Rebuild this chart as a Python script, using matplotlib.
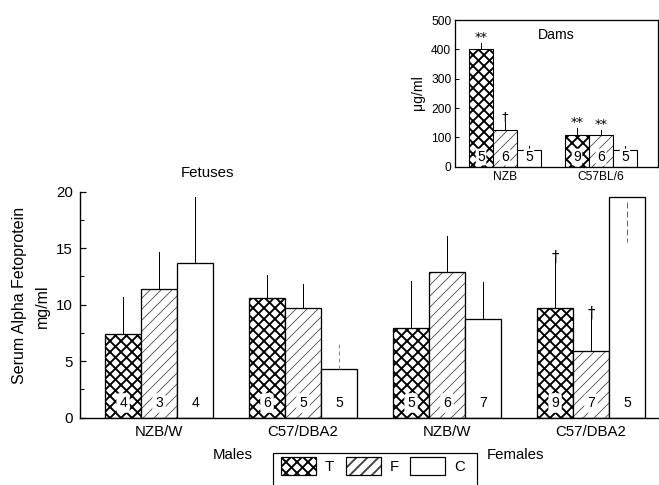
import matplotlib
matplotlib.use('Agg')
import matplotlib.pyplot as plt
import numpy as np
from matplotlib.patches import Rectangle, Patch

DPI = 66
PT = 72.0 / DPI          # points per pixel
W, H = 659, 485

plt.rcParams['font.family'] = ['Liberation Sans', 'DejaVu Sans']
plt.rcParams['hatch.linewidth'] = 1.9 * PT

# ---------------- data: fetuses (mg/ml) ----------------
fet_groups = ['NZB/W', 'C57/DBA2', 'NZB/W', 'C57/DBA2']
fet_T = [7.45, 10.55, 7.95, 9.75]
fet_F = [11.35, 9.75, 12.85, 5.9]
fet_C = [13.65, 4.3, 8.7, 19.55]
fet_T_err = [3.25, 2.05, 4.15, 4.45]
fet_F_err = [3.35, 2.05, 3.25, 3.35]
fet_C_err = [5.85, 2.3, 3.3, 4.0]
fet_T_n = [4, 6, 5, 9]
fet_F_n = [3, 5, 6, 7]
fet_C_n = [4, 5, 7, 5]
fet_T_mark = ['', '', '', '\u2020']
fet_F_mark = ['', '', '', '\u2020']

# ---------------- data: dams (ug/ml) ----------------
dam_groups = ['NZB', 'C57BL/6']
dam_T = [400, 108]
dam_F = [125, 108]
dam_C = [57, 57]
dam_T_err = [23, 23]
dam_F_err = [28, 17]
dam_C_err = [15, 15]
dam_T_n = [5, 9]
dam_F_n = [6, 6]
dam_C_n = [5, 5]
dam_T_mark = ['**', '**']
dam_F_mark = ['\u2020', '**']

legend_labels = ['T', 'F', 'C']

fig = plt.figure(figsize=(W / DPI, H / DPI), dpi=DPI)
fig.patch.set_facecolor('white')

def fs(px):
    return px * PT

styles = {
    'T': dict(hatch='xx', hlw=1.9, hcolor='black'),
    'F': dict(hatch='//', hlw=0.8, hcolor='#444444'),
    'C': dict(hatch=None, hlw=1.0, hcolor='black'),
}

def style_patch(p, key):
    st = styles[key]
    if st['hatch']:
        p._hatch_color = matplotlib.colors.to_rgba(st['hcolor'])
        if hasattr(p, 'set_hatch_linewidth'):
            p.set_hatch_linewidth(st['hlw'] * PT)

def draw_bars(ax, xs, vals, key, width, lw):
    st = styles[key]
    bars = ax.bar(xs, vals, width=width, facecolor='white', edgecolor='black',
                  linewidth=lw * PT, hatch=st['hatch'], zorder=2)
    for b in bars:
        style_patch(b, key)
    return bars

DAG_FONT = ['DejaVu Sans']

# ================= main axes =================
ax = fig.add_axes([80 / W, 67.3 / H, (W - 80) / W, 226 / H])
x = np.arange(len(fet_groups))
bw = 0.25
series = [('T', fet_T, fet_T_err, fet_T_n, fet_T_mark, -bw),
          ('F', fet_F, fet_F_err, fet_F_n, fet_F_mark, 0.0),
          ('C', fet_C, fet_C_err, fet_C_n, None, bw)]
for key, vals, errs, ns, marks, off in series:
    xs = x + off
    draw_bars(ax, xs, vals, key, bw, 1.3)
    for i, (xx, v, e, n) in enumerate(zip(xs, vals, errs, ns)):
        if key == 'C' and i == 3:
            ax.plot([xx, xx], [v - 0.5, v - e], color='#666666', lw=1.0 * PT,
                    ls=(0, (6, 3)), zorder=3)
        elif key == 'C' and i == 1:
            ax.plot([xx, xx], [v, v + e], color='#888888', lw=1.0 * PT,
                    ls=(0, (4, 3)), zorder=3)
        else:
            ax.plot([xx, xx], [v, v + e], color='black', lw=1.0 * PT, zorder=3)
        ax.text(xx, 1.3, str(n), ha='center', va='center', fontsize=fs(14),
                zorder=4, bbox=dict(boxstyle='round,pad=0.2', fc='white', ec='none'))
        if marks and marks[i]:
            ax.text(xx, v + e, marks[i], ha='center', va='center', fontsize=fs(15),
                    family=DAG_FONT, zorder=4)

ax.set_xlim(-0.549, 3.472)
ax.set_ylim(0, 20)
ax.set_yticks([0, 5, 10, 15, 20])
ax.set_yticks([2.5, 7.5, 12.5, 17.5], minor=True)
ax.tick_params(axis='y', which='major', direction='in', length=6, width=1.2 * PT,
               labelsize=fs(15), pad=8)
ax.tick_params(axis='y', which='minor', direction='in', length=4, width=1.0 * PT)
ax.set_xticks(x)
ax.set_xticklabels(fet_groups)
ax.tick_params(axis='x', length=0, labelsize=fs(15), pad=8)
for s in ['top', 'right']:
    ax.spines[s].set_visible(False)
for s in ['left', 'bottom']:
    ax.spines[s].set_linewidth(1.4 * PT)

fig.text(208 / W, 1 - 172.7 / H, 'Fetuses', ha='center', va='center', fontsize=fs(15))
fig.text(20 / W, 1 - 295 / H, 'Serum Alpha Fetoprotein', rotation=90,
         ha='center', va='center', fontsize=fs(16))
fig.text(42 / W, 1 - 306 / H, 'mg/ml', rotation=90, ha='center', va='center', fontsize=fs(16))
fig.text(233 / W, 1 - 455 / H, 'Males', ha='center', va='center', fontsize=fs(15))
fig.text(516 / W, 1 - 455 / H, 'Females', ha='center', va='center', fontsize=fs(15))

# legend box (bottom edge runs off the figure, as in the original)
fig.patches.append(Rectangle((273 / W, -0.05), (477 - 273) / W, 0.05 + 1 - 453 / H,
                             transform=fig.transFigure, fc='white', ec='black',
                             lw=1.2 * PT, zorder=5))
handles = []
for k in legend_labels:
    p = Patch(facecolor='white', edgecolor='black', hatch=styles[k]['hatch'],
              linewidth=1.2 * PT, label=k)
    style_patch(p, k)
    handles.append(p)
leg = fig.legend(handles=handles, loc='center left', bbox_to_anchor=(281 / W, 1 - 466 / H),
                 ncol=3, frameon=False, fontsize=fs(15), handlelength=35 / 15,
                 handleheight=22 / 15, handletextpad=0.6, columnspacing=0.75,
                 borderpad=0.0, borderaxespad=0.0)
leg.set_zorder(6)

# ================= inset axes =================
ia = fig.add_axes([455 / W, 318.3 / H, (658 - 455) / W, 146.7 / H])
xi = np.arange(len(dam_groups))
dseries = [('T', dam_T, dam_T_err, dam_T_n, dam_T_mark, -bw),
           ('F', dam_F, dam_F_err, dam_F_n, dam_F_mark, 0.0),
           ('C', dam_C, dam_C_err, dam_C_n, None, bw)]
for key, vals, errs, ns, marks, off in dseries:
    xs = xi + off
    draw_bars(ia, xs, vals, key, bw, 1.1)
    for i, (xx, v, e, n) in enumerate(zip(xs, vals, errs, ns)):
        ia.plot([xx, xx], [v, v + e], color='black', lw=1.0 * PT, zorder=3)
        ia.text(xx, 33, str(n), ha='center', va='center', fontsize=fs(14), zorder=4,
                bbox=dict(boxstyle='round,pad=0.1', fc='white', ec='none'))
        if marks and marks[i]:
            ia.text(xx, v + e - 4, marks[i], ha='center', va='bottom', fontsize=fs(13),
                    family=DAG_FONT, zorder=4)
ia.set_xlim(-0.521, 1.594)
ia.set_ylim(0, 500)
ia.set_yticks(np.arange(0, 501, 100))
ia.tick_params(axis='y', direction='in', length=4, width=1.0 * PT, labelsize=fs(12), pad=4)
ia.set_xticks(xi)
ia.set_xticklabels(dam_groups)
ia.tick_params(axis='x', length=0, labelsize=fs(12), pad=5)
for s in ia.spines.values():
    s.set_linewidth(1.3 * PT)
ia.text(0.5, 0.9, 'Dams', transform=ia.transAxes, ha='center', va='center', fontsize=fs(14))
fig.text(418 / W, 1 - 93 / H, '\u03bcg/ml', rotation=90, ha='center', va='center', fontsize=fs(14))

fig.savefig('out.png', dpi=DPI, facecolor='white')
